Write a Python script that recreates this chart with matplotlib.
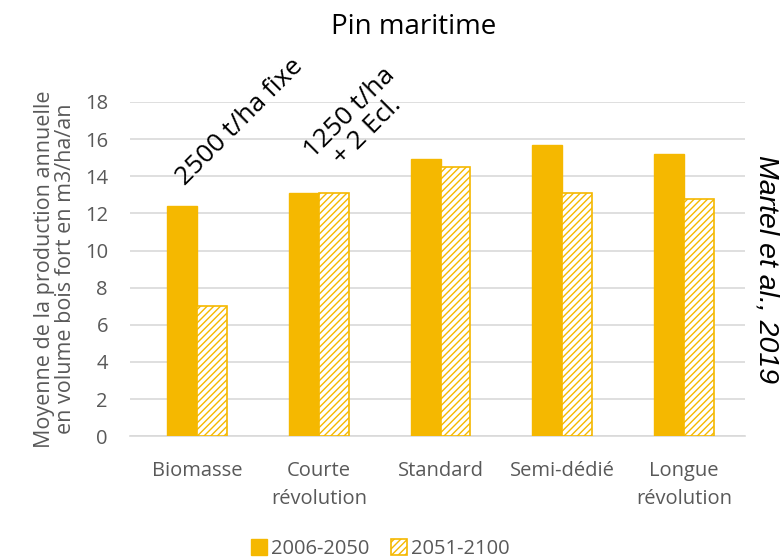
import matplotlib.pyplot as plt
import numpy as np

categories = ["Biomasse", "Courte\nrévolution", "Standard", "Semi-dédié", "Longue\nrévolution"]
p2006_2050 = [12.4, 13.1, 14.9, 15.7, 15.2]
p2051_2100 = [7.0, 13.1, 14.5, 13.1, 12.75]
yticks = [0, 2, 4, 6, 8, 10, 12, 14, 16, 18]

gold = "#F5B800"
grey = "#595959"
plt.rcParams['font.family'] = ['Open Sans', 'DejaVu Sans']
plt.rcParams['hatch.linewidth'] = 1.0

fig = plt.figure(figsize=(7.84, 5.6), dpi=100)
ax = fig.add_axes([0.166, 0.221, 0.784, 0.597])

x = np.arange(len(categories))
w = 0.245
ax.bar(x - w/2, p2006_2050, w, color=gold, edgecolor=gold, label="2006-2050", zorder=3)
ax.bar(x + w/2, p2051_2100, w, color="white", edgecolor=gold, hatch="/////",
       linewidth=1.2, label="2051-2100", zorder=3)

ax.set_ylim(0, 18)
ax.set_xlim(-0.55, 4.5)
ax.set_yticks(yticks)
ax.set_xticks(x)
ax.set_xticklabels(categories, linespacing=1.55)
ax.tick_params(axis='both', length=0, labelsize=14.5, colors=grey)
ax.tick_params(axis='y', pad=16)
ax.tick_params(axis='x', pad=18)
ax.yaxis.grid(True, color="#D9D9D9", linewidth=1.2, zorder=0)
for s in ["top", "right", "left"]:
    ax.spines[s].set_visible(False)
ax.spines["bottom"].set_color("#D9D9D9")
ax.spines["bottom"].set_linewidth(1.2)

ax.set_ylabel("Moyenne de la production annuelle\nen volume bois fort en m3/ha/an",
              fontsize=15.5, color=grey, labelpad=6, linespacing=1.05)

fig.text(0.527, 0.952, "Pin maritime", ha="center", va="center", fontsize=20)
fig.text(0.306, 0.782, "2500 t/ha fixe", rotation=45, ha="center", va="center",
         rotation_mode="anchor", fontsize=19)
fig.text(0.457, 0.782, "1250 t/ha\n+ 2 Ecl.", rotation=45, ha="center", va="center",
         rotation_mode="anchor", fontsize=19, linespacing=1.0)
fig.text(0.978, 0.52, "Martel et al., 2019", rotation=-90, ha="center", va="center",
         fontsize=20.5, style="italic", family=["Liberation Sans", "DejaVu Sans"])

leg = fig.legend(loc="center", bbox_to_anchor=(0.485, 0.02), ncol=2, frameon=False,
                 fontsize=14.5, handlelength=0.8, handleheight=0.8, handletextpad=0.2,
                 columnspacing=1.1)
for t in leg.get_texts():
    t.set_color(grey)

fig.savefig("out.png", dpi=100)
